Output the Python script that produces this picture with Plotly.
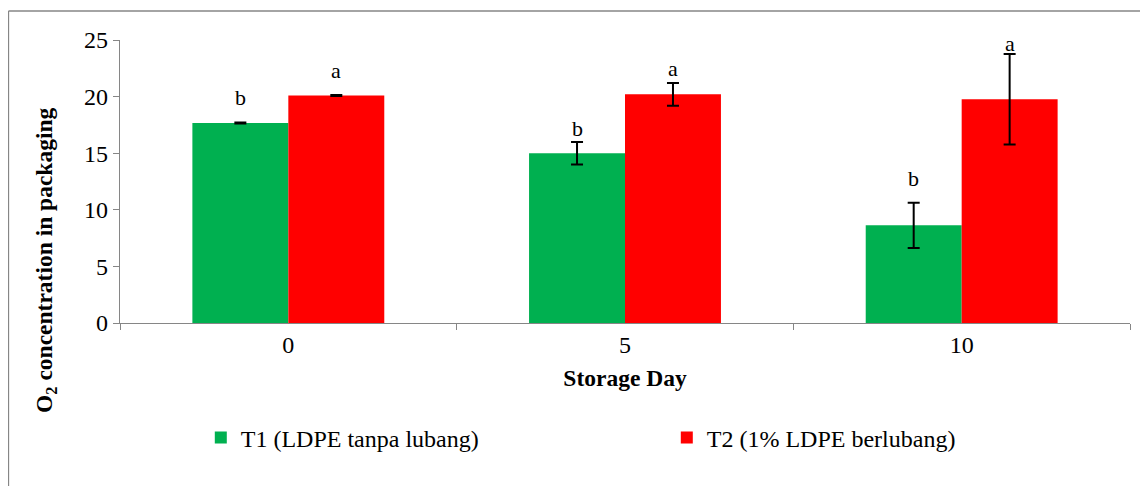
import plotly.graph_objects as go

# ---- data ----
days = ["0", "5", "10"]
t1_name = "T1 (LDPE tanpa lubang)"
t2_name = "T2 (1% LDPE berlubang)"
t1_values = [17.67, 15.0, 8.63]
t1_errors = [0.05, 1.0, 2.0]
t2_values = [20.1, 20.2, 19.76]
t2_errors = [0.05, 1.0, 4.0]
t1_letters = ["b", "b", "b"]
t2_letters = ["a", "a", "a"]
y_ticks = [0, 5, 10, 15, 20, 25]
y_title = "<b>O<sub>2</sub> concentration in packaging</b>"
x_title = "<b>Storage Day</b>"

FONT = "Liberation Serif"
AXIS_GRAY = "#868686"

fig = go.Figure()
fig.add_trace(go.Bar(
    x=days, y=t1_values, name=t1_name,
    marker=dict(color="#00B050", line=dict(width=0)),
    error_y=dict(type="data", array=t1_errors, visible=True,
                 color="black", thickness=2, width=6),
))
fig.add_trace(go.Bar(
    x=days, y=t2_values, name=t2_name,
    marker=dict(color="#FF0000", line=dict(width=0)),
    error_y=dict(type="data", array=t2_errors, visible=True,
                 color="black", thickness=2, width=6),
))

# significance letters (x given as category index)
t1_shift = [10, -1, 10]
t2_shift = [10, 0, -4]
for i, d in enumerate(days):
    fig.add_annotation(x=i, y=t1_values[i] + t1_errors[i], text=t1_letters[i],
                       xref="x", yref="y", xshift=-48, yshift=t1_shift[i],
                       yanchor="bottom", showarrow=False,
                       font=dict(family=FONT, size=22, color="black"))
    fig.add_annotation(x=i, y=t2_values[i] + t2_errors[i], text=t2_letters[i],
                       xref="x", yref="y", xshift=48, yshift=t2_shift[i],
                       yanchor="bottom", showarrow=False,
                       font=dict(family=FONT, size=22, color="black"))

# y-axis title (centred on the whole chart height, as in the reference)
fig.add_annotation(x=-0.0733, y=0.2226, xref="paper", yref="paper",
                   text=y_title, textangle=-90, showarrow=False,
                   xanchor="center", yanchor="middle",
                   font=dict(family=FONT, size=23.5, color="black"))

# outer chart border (left and top visible)
border = dict(color=AXIS_GRAY, width=1.3)
fig.add_shape(type="line", xref="paper", yref="paper",
              x0=-0.1104, x1=-0.1104, y0=-0.62, y1=1.1025, line=border)
fig.add_shape(type="line", xref="paper", yref="paper",
              x0=-0.1104, x1=1.05, y0=1.1025, y1=1.1025, line=border)

fig.update_layout(
    width=1140, height=478,
    margin=dict(l=112, r=18, t=32, b=163),
    paper_bgcolor="white", plot_bgcolor="white",
    barmode="group", bargap=0.43, bargroupgap=0,
    font=dict(family=FONT, color="black", size=24),
    showlegend=True,
    legend=dict(orientation="h", x=0.08, xanchor="left",
                y=-0.406, yanchor="middle",
                font=dict(family=FONT, size=24, color="black"),
                entrywidth=421, entrywidthmode="pixels",
                bgcolor="rgba(0,0,0,0)"),
    xaxis=dict(
        type="category", range=[-0.5, 2.5],
        title=dict(text=x_title, standoff=12,
                   font=dict(family=FONT, size=23.5, color="black")),
        showline=True, linecolor=AXIS_GRAY, linewidth=1.3,
        ticks="outside", tickson="boundaries", ticklen=6,
        tickcolor=AXIS_GRAY, tickwidth=1.3,
        tickfont=dict(family=FONT, size=24, color="black"),
        showgrid=False, zeroline=False,
    ),
    yaxis=dict(
        range=[0, 25], tickvals=y_ticks,
        showline=True, linecolor=AXIS_GRAY, linewidth=1.3,
        ticks="outside", ticklen=6, tickcolor=AXIS_GRAY, tickwidth=1.3,
        tickfont=dict(family=FONT, size=24, color="black"),
        showgrid=False, zeroline=False,
    ),
)

fig.write_html("out.html")
